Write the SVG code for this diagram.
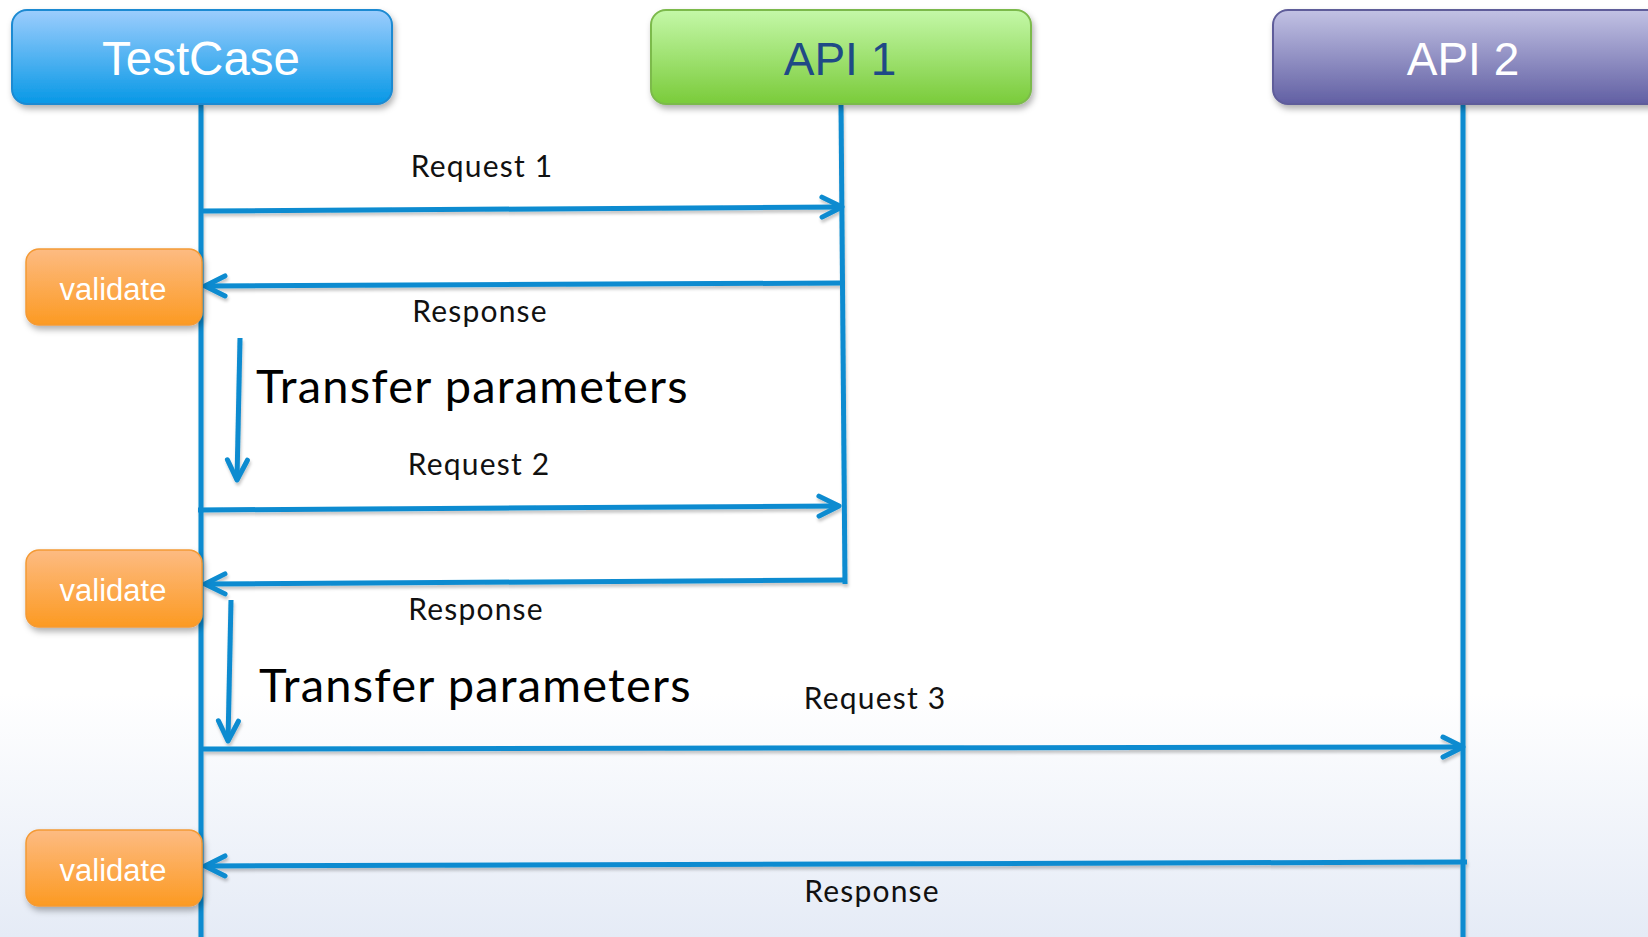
<svg xmlns="http://www.w3.org/2000/svg" width="1648" height="937" viewBox="0 0 1648 937">
<defs>
<linearGradient id="bg" x1="0" y1="0" x2="0" y2="1">
<stop offset="0" stop-color="#ffffff"/>
<stop offset="0.74" stop-color="#ffffff"/>
<stop offset="1" stop-color="#e5ebf6"/>
</linearGradient>
<linearGradient id="gTest" x1="0" y1="0" x2="0" y2="1">
<stop offset="0" stop-color="#9ccdfd"/>
<stop offset="1" stop-color="#0798e6"/>
</linearGradient>
<linearGradient id="gApi1" x1="0" y1="0" x2="0" y2="1">
<stop offset="0" stop-color="#c4f8a8"/>
<stop offset="1" stop-color="#7acb3a"/>
</linearGradient>
<linearGradient id="gApi2" x1="0" y1="0" x2="0" y2="1">
<stop offset="0" stop-color="#c2c2e4"/>
<stop offset="1" stop-color="#615fa3"/>
</linearGradient>
<linearGradient id="gVal" x1="0" y1="0" x2="0" y2="1">
<stop offset="0" stop-color="#fdbb82"/>
<stop offset="1" stop-color="#fc9a22"/>
</linearGradient>
<filter id="sh" x="-10%" y="-20%" width="125%" height="150%">
<feDropShadow dx="2" dy="4" stdDeviation="3" flood-color="#000" flood-opacity="0.3"/>
</filter>
<filter id="lsh" x="-5%" y="-50%" width="110%" height="200%">
<feDropShadow dx="1" dy="3" stdDeviation="1.5" flood-color="#000" flood-opacity="0.22"/>
</filter>
<marker id="ah" markerUnits="userSpaceOnUse" viewBox="-26 -15 30 30" refX="0" refY="0" markerWidth="30" markerHeight="30" orient="auto">
<path d="M -20 -10 L 0 0 L -20 10" fill="none" stroke="#0a8bd0" stroke-width="5" stroke-linecap="round" stroke-linejoin="round"/>
</marker>
<style>
.lane { fill:none; stroke:#0a8bd0; stroke-width:5; }
.msg { fill:none; stroke:#0a8bd0; stroke-width:5; marker-end:url(#ah); }
.hdr { font-family:"Liberation Sans", Arial, sans-serif; font-size:46px; text-anchor:middle; }
.val { font-family:"Liberation Sans", Arial, sans-serif; font-size:31px; fill:#ffffff; text-anchor:middle; }
.lbl { font-family:Lato, "Noto Sans", sans-serif; font-size:30px; letter-spacing:1.2px; fill:#111111; text-anchor:middle; }
.big { font-family:Lato, "Noto Sans", sans-serif; font-size:47px; letter-spacing:1.2px; fill:#000000; }
</style>
</defs>
<rect x="0" y="0" width="1648" height="937" fill="url(#bg)"/>

<g id="connectors" filter="url(#lsh)">
<path class="lane" d="M 201 104 L 201 937"/>
<path class="lane" d="M 841 104 L 845 584"/>
<path class="lane" d="M 1463 104 L 1463 937"/>
<path class="msg" d="M 203 211 L 842 207"/>
<path class="msg" d="M 841 283 L 205 286"/>
<path class="msg" d="M 240 338 L 237 480"/>
<path class="msg" d="M 198 510 L 839 506"/>
<path class="msg" d="M 845 580 L 205 584"/>
<path class="msg" d="M 231 600 L 228 741"/>
<path class="msg" d="M 203 749 L 1463 747"/>
<path class="msg" d="M 1467 862 L 205 866"/>
</g>

<g id="labels">
<text class="lbl" x="482" y="177">Request 1</text>
<text class="lbl" x="480" y="322">Response</text>
<text class="big" x="256" y="403">Transfer parameters</text>
<text class="lbl" x="479" y="475">Request 2</text>
<text class="lbl" x="476" y="620">Response</text>
<text class="big" x="259" y="702">Transfer parameters</text>
<text class="lbl" x="875" y="709">Request 3</text>
<text class="lbl" x="872" y="902">Response</text>
</g>

<g id="testcase">
<rect x="12" y="10" width="380" height="94" rx="15" fill="url(#gTest)" stroke="#1b8ad2" stroke-width="2" filter="url(#sh)"/>
<text class="hdr" x="201" y="75" fill="#ffffff" style="font-size:47.5px">TestCase</text>
</g>
<g id="api1">
<rect x="651" y="10" width="380" height="94" rx="15" fill="url(#gApi1)" stroke="#7cba4c" stroke-width="2" filter="url(#sh)"/>
<text class="hdr" x="840" y="75" fill="#1f4a86">API 1</text>
</g>
<g id="api2">
<rect x="1273" y="10" width="390" height="94" rx="15" fill="url(#gApi2)" stroke="#5f5d9a" stroke-width="2" filter="url(#sh)"/>
<text class="hdr" x="1463" y="75" fill="#ffffff">API 2</text>
</g>
<g id="validate1">
<rect x="26" y="249" width="176" height="76" rx="13" fill="url(#gVal)" stroke="#f49a35" stroke-width="1.5" filter="url(#sh)"/>
<text class="val" x="113" y="300">validate</text>
</g>
<g id="validate2">
<rect x="26" y="550" width="176" height="77" rx="13" fill="url(#gVal)" stroke="#f49a35" stroke-width="1.5" filter="url(#sh)"/>
<text class="val" x="113" y="601">validate</text>
</g>
<g id="validate3">
<rect x="26" y="830" width="176" height="76" rx="13" fill="url(#gVal)" stroke="#f49a35" stroke-width="1.5" filter="url(#sh)"/>
<text class="val" x="113" y="881">validate</text>
</g>
</svg>
